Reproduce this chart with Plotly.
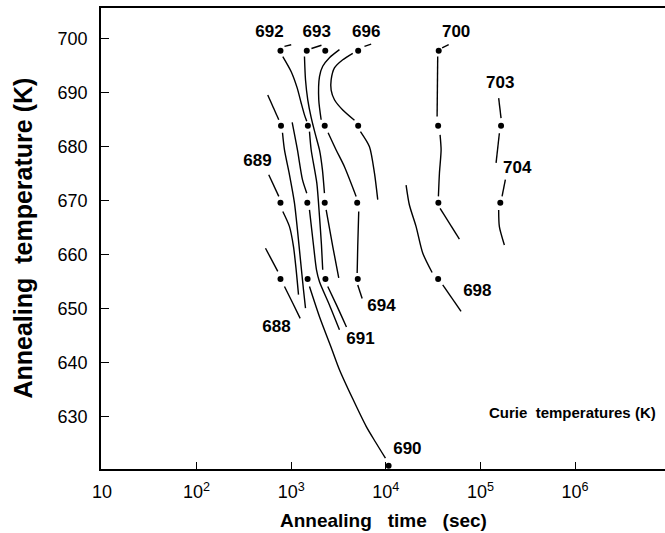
import plotly.graph_objects as go

FONT = "Liberation Sans, Arial, Helvetica, sans-serif"

# Measured anneals: time (s) and temperature (K)
dot_time = [770, 1460, 2290, 5100, 36200,
            780, 1500, 2260, 5100, 35700, 165000,
            770, 1480, 2260, 4980, 35900, 162000,
            770, 1490, 2300, 5050, 35700,
            10700]
dot_temp = [697.8, 697.8, 697.8, 697.8, 697.8,
            683.9, 683.9, 683.9, 683.9, 683.9, 683.9,
            669.6, 669.6, 669.6, 669.6, 669.6, 669.6,
            655.5, 655.5, 655.5, 655.5, 655.5,
            620.9]

# Iso-Curie-temperature line segments: (times in s, temperatures in K)
seg_692_tick = ([849, 1000], [698.6, 698.9])
seg_693_tick = ([1637, 2088], [698.2, 698.8])
seg_696_tick = ([5946, 6998], [698.6, 699.0])
seg_700_tick = ([39330, 46150], [698.3, 698.9])
seg_692 = ([815, 1000, 1156, 1274, 1381, 1460], [696.7, 693.9, 690.9, 688.1, 685.9, 684.7])
seg_693 = ([1381, 1416, 1496, 1626, 1806, 1990, 2138, 2245],
           [696.7, 692.4, 688.7, 685.4, 682.2, 679.4, 675.7, 671.4])
seg_695 = ([3234, 2536, 2153, 1990, 1955, 2072], [698.0, 696.5, 694.9, 693.0, 688.7, 685.0])
seg_696 = ([4470, 3506, 2864, 2642, 2642, 2864, 3506, 4660],
           [697.3, 696.1, 694.6, 692.4, 690.5, 688.7, 686.8, 684.9])
seg_696_low = ([5393, 6714, 7584, 8211], [682.8, 680.0, 675.1, 670.2])
seg_r2_in = ([565, 739], [689.6, 685.0])
seg_a = ([809, 849, 959, 1082, 1164, 1253, 1348, 1416],
         [682.6, 679.4, 674.8, 669.6, 664.6, 659.0, 653.5, 650.1])
seg_b = ([1024, 1164, 1315, 1460], [684.5, 679.4, 673.9, 671.4])
seg_c = ([1560, 1626, 1864, 1990, 2088, 2153], [682.8, 679.4, 673.3, 667.1, 661.8, 657.2])
seg_d = ([2455, 2985, 3653, 4855], [682.6, 679.4, 676.3, 670.8])
seg_700a = ([35330, 34810], [696.7, 685.6])
seg_700b = ([37430, 38370, 36840, 35940], [682.2, 679.4, 675.1, 670.8])
seg_700c = ([37430, 59880], [668.6, 662.9])
seg_703a = ([155700, 165000], [689.0, 685.3])
seg_703b = ([158400, 146200], [682.5, 677.0])
seg_704a = ([183300, 169100], [673.9, 670.8])
seg_704b = ([155700, 158400, 178900], [668.3, 665.2, 661.8])
seg_689 = ([579, 739], [674.8, 670.8])
seg_e = ([815, 959, 1057, 1128, 1194], [668.0, 665.2, 661.5, 657.2, 652.6])
seg_688_in = ([535, 721], [661.2, 656.9])
seg_688 = ([849, 1040, 1244], [654.1, 651.0, 648.2])
seg_691a = ([1560, 1719, 1850, 1990, 2536, 3234], [668.3, 661.8, 657.2, 655.0, 650.7, 646.1])
seg_f = ([2341, 2749, 3180], [668.3, 661.5, 655.7])
seg_691b = ([2433, 3006, 3836], [654.1, 650.7, 646.6])
seg_694a = ([5170, 5047, 4977], [668.0, 661.5, 656.6])
seg_694b = ([5047, 5620], [654.4, 651.9])
seg_690 = ([1560, 1990, 2698, 3234, 4470, 6197, 7770, 9902],
           [654.1, 648.5, 642.4, 638.7, 633.3, 628.2, 625.3, 622.3])
seg_698a = ([16370, 17740, 20880, 24530, 30830], [672.9, 669.2, 665.2, 660.3, 656.7])
seg_698b = ([39920, 62380], [654.4, 649.5])

segments = [seg_692_tick, seg_693_tick, seg_696_tick, seg_700_tick, seg_692, seg_693,
            seg_695, seg_696, seg_696_low, seg_r2_in, seg_a, seg_b, seg_c, seg_d,
            seg_700a, seg_700b, seg_700c, seg_703a, seg_703b, seg_704a, seg_704b,
            seg_689, seg_e, seg_688_in, seg_688, seg_691a, seg_f, seg_691b,
            seg_694a, seg_694b, seg_690, seg_698a, seg_698b]

# Curie temperature labels
label_text = ["692", "693", "696", "700", "703", "704", "689", "688", "694", "691", "690", "698"]
label_time = [589, 1864, 6197, 55340, 161500, 244300, 440, 698, 8980, 5393, 16900, 92700]
label_temp = [701.1, 701.1, 701.1, 701.1, 691.7, 676.0, 677.2, 646.4, 650.3, 644.2, 623.8, 653.1]

x_tick_vals = [10, 100, 1000, 10000, 100000, 1000000]
x_tick_text = ["10", "10<sup>2</sup>", "10<sup>3</sup>", "10<sup>4</sup>",
               "10<sup>5</sup>", "10<sup>6</sup>"]
y_tick_vals = [630, 640, 650, 660, 670, 680, 690, 700]

fig = go.Figure()
for t, T in segments:
    fig.add_trace(go.Scatter(x=t, y=T, mode="lines", line=dict(color="black", width=1.4,
                             shape="spline", smoothing=0.7),
                             hoverinfo="skip", showlegend=False))

fig.add_trace(go.Scatter(x=dot_time, y=dot_temp, mode="markers",
                         marker=dict(color="black", size=6), showlegend=False))
fig.add_trace(go.Scatter(x=label_time, y=label_temp, mode="text", text=label_text,
                         textposition="middle center",
                         textfont=dict(family=FONT, size=17, color="black", weight="bold"),
                         showlegend=False))

NB = "\u00a0"
fig.update_layout(
    width=665, height=533,
    margin=dict(l=101, r=0, t=8, b=64),
    paper_bgcolor="white", plot_bgcolor="white",
    font=dict(family=FONT, color="black"),
    xaxis=dict(type="log", range=[0.99, 6.95], tickvals=x_tick_vals, ticktext=x_tick_text,
               ticks="inside", ticklen=7, tickwidth=1, tickcolor="black",
               showline=True, linecolor="black", linewidth=1.5, mirror=True,
               showgrid=False, zeroline=False, tickfont=dict(size=18),
               ticklabelstandoff=6),
    yaxis=dict(range=[620.3, 705.7], tickvals=y_tick_vals,
               ticks="inside", ticklen=8, tickwidth=1, tickcolor="black",
               showline=True, linecolor="black", linewidth=1.5, mirror=False,
               showgrid=False, zeroline=False, tickfont=dict(size=18),
               ticklabelstandoff=8),
    annotations=[
        dict(text="<b>Annealing" + NB * 3 + "time" + NB * 3 + "(sec)</b>",
             xref="paper", yref="paper",
             x=0.501, y=-0.112, xanchor="center", yanchor="middle", showarrow=False,
             font=dict(size=19)),
        dict(text="<b>Annealing" + NB * 2 + "temperature (K)</b>", xref="paper", yref="paper",
             x=-0.14, y=0.5, xanchor="center", yanchor="middle", showarrow=False,
             textangle=-90, font=dict(size=25)),
        dict(text="<b>Curie" + NB * 2 + "temperatures (K)</b>", xref="paper", yref="paper",
             x=0.988, y=0.122, xanchor="right", yanchor="middle", showarrow=False,
             font=dict(size=15)),
    ],
)

fig.write_html("out.html")
